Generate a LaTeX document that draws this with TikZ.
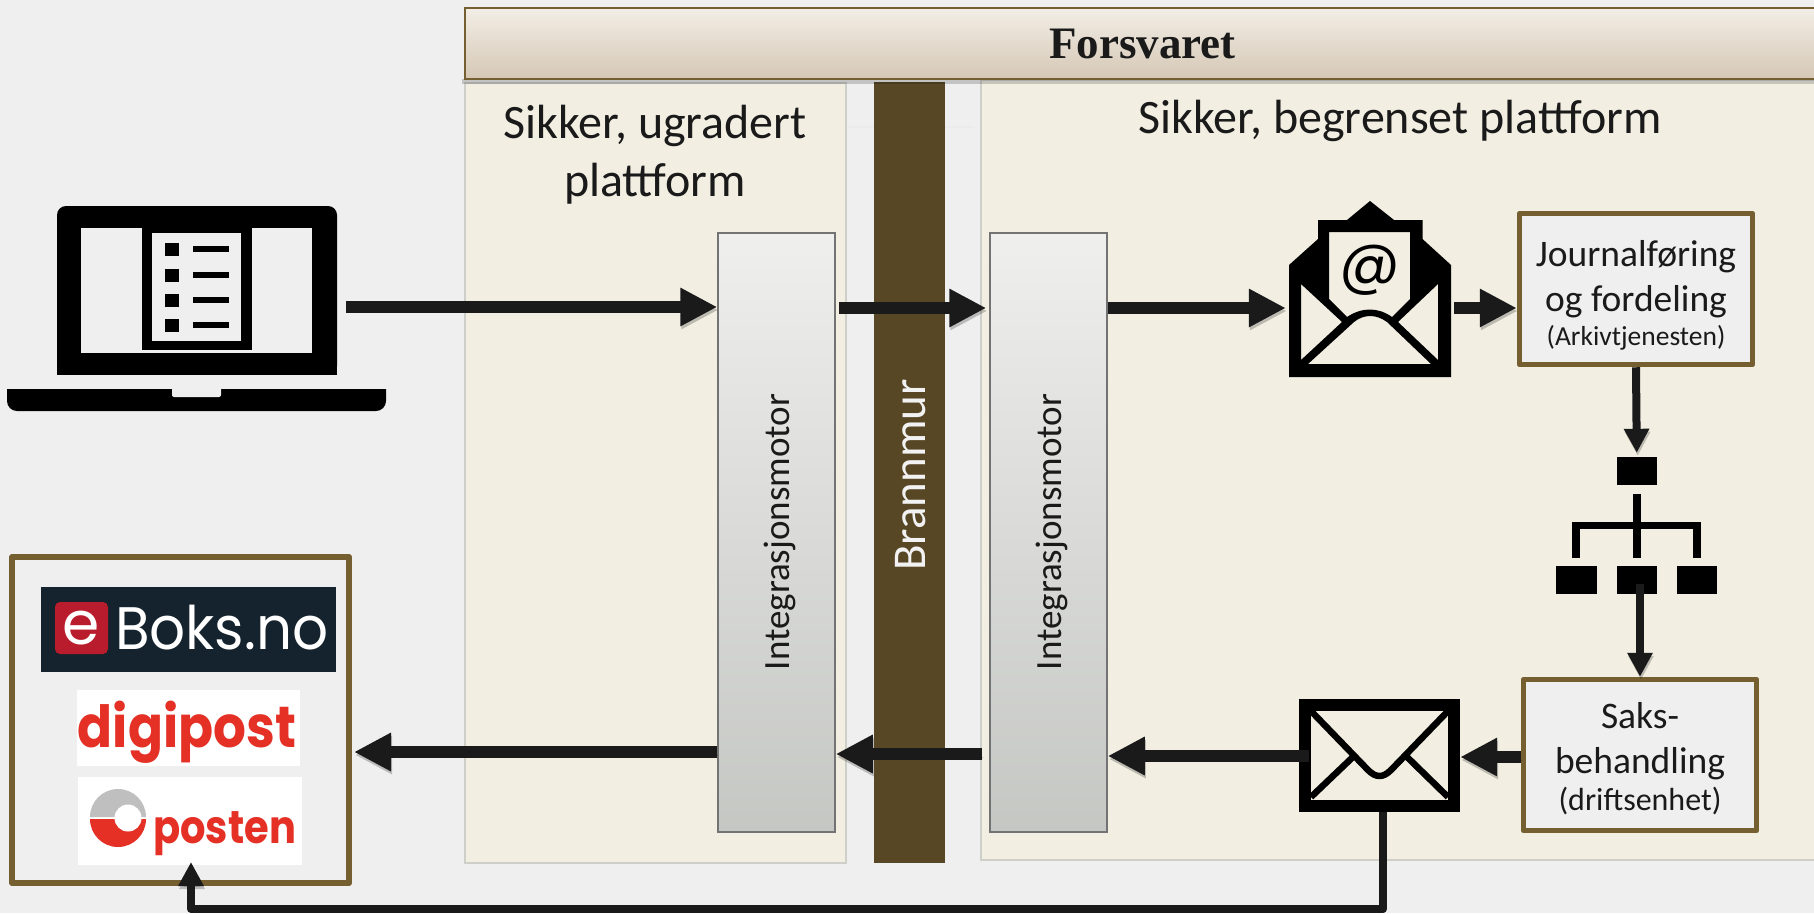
\documentclass[tikz,border=0pt]{standalone}
\usepackage{fontspec}
\setmainfont{Carlito}
\newfontfamily\headfont{Liberation Serif}
\newfontfamily\logofont{Poppins}
\usepackage{tikz}
\usetikzlibrary{arrows.meta}

\definecolor{pagegrey}{HTML}{EFEFEF}
\definecolor{panelfill}{HTML}{F2EEE2}
\definecolor{panelline}{HTML}{CFCFCA}
\definecolor{boxbrown}{HTML}{755E30}
\definecolor{wallbrown}{HTML}{574725}
\definecolor{flowblack}{HTML}{1A1A1A}
\definecolor{logored}{HTML}{E53026}
\definecolor{eboksnavy}{HTML}{14232D}
\definecolor{eboksred}{HTML}{B91C2D}
\definecolor{headtop}{HTML}{F2EEE6}
\definecolor{headlow}{HTML}{D5C7B5}
\definecolor{enginetop}{HTML}{EFEFEE}
\definecolor{enginelow}{HTML}{C5C7C3}

\tikzset{
  panel/.style={draw=panelline,line width=1.5pt,fill=panelfill,rectangle,inner sep=0pt},
  engine/.style={draw=black!55,line width=1.5pt,rectangle,inner sep=0pt,
    top color=enginetop,bottom color=enginelow,minimum width=117pt,minimum height=599pt},
  staffbox/.style={draw=boxbrown,line width=5.5pt,line join=round,fill=pagegrey,rectangle,
    inner sep=0pt,minimum width=233pt,minimum height=151pt},
  stafftext/.style={inner sep=0pt,align=center,text=flowblack,font=\fontsize{37.5}{44}\selectfont},
  iconbox/.style={rectangle,inner sep=0pt},
  logobox/.style={rectangle,inner sep=0pt,fill=white},
  soft/.style={preaction={draw=black,draw opacity=.22,transform canvas={shift={(1pt,-3pt)}}}},
  flow/.style={draw=flowblack,line width=12pt,->,>={Triangle[length=37pt,width=36pt]},soft},
  thinflow/.style={draw=flowblack,line width=8pt,line join=round,->,>={Triangle[length=24pt,width=24pt]},soft},
  orgpart/.style={fill=black,draw=none}
}

\begin{document}
\begin{tikzpicture}[x=1pt,y=-1pt]

  \clip (0,0) rectangle (1814,913);
  \fill [pagegrey] (0,0) rectangle (1814,913);

  % platforms and the wall
  \node [panel,minimum width=381pt,minimum height=780pt] (SafeOpen) at (655.5,473) {};
  \node [panel,minimum width=850pt,minimum height=780pt] (SafeLimited) at (1406,470) {};
  \draw [black!8,line width=1.5pt] (848,127) -- (974,127);
  \node [rectangle,fill=wallbrown,minimum width=71pt,minimum height=781pt,inner sep=0pt] (Wall) at (909,472.5) {};
  \node [rotate=90,text=black!5,font=\fontsize{47}{50}\selectfont] (WallLabel) at (911,475) {Brannmur};

  \fill [black,opacity=.18] (462,79) rectangle (1814,84);
  \node [rectangle,draw=boxbrown,line width=1.5pt,top color=headtop,bottom color=headlow,
    minimum width=1355pt,minimum height=71pt,inner sep=0pt,font=\headfont\bfseries\fontsize{45}{48}\selectfont,text=flowblack]
    (Head) at (1142.5,43.5) {\raisebox{-3pt}{Forsvaret}};

  \node [align=center,text=flowblack,font=\fontsize{48}{58}\selectfont] (OpenLabel) at (655,155) {Sikker, ugradert\\plattform};
  \node [text=flowblack,font=\fontsize{48}{58}\selectfont] (LimitedLabel) at (1400,121) {Sikker, begrenset plattform};

  % integration engines
  \node [engine] (EngineA) at (776.5,532.5) {};
  \node [engine] (EngineB) at (1048.5,532.5) {};
  \node [rotate=90,text=flowblack,font=\fontsize{37}{40}\selectfont] (EngineALabel) at (780,532) {Integrasjonsmotor};
  \node [rotate=90,text=flowblack,font=\fontsize{37}{40}\selectfont] (EngineBLabel) at (1052,532) {Integrasjonsmotor};

  % staff boxes
  \node [staffbox] (Journal) at (1636,289) {};
  \node [stafftext] (JournalLabel) at ([yshift=-6pt]Journal.center)
    {Journalføring\\[1pt]og fordeling\\[-10pt]{\fontsize{27.5}{30}\selectfont (Arkivtjenesten)}};
  \node [staffbox] (Case) at (1640,755) {};
  \node [stafftext] (CaseLabel) at ([yshift=-4pt]Case.center)
    {Saks-\\[1pt]behandling\\[-7pt]{\fontsize{32}{36}\selectfont (driftsenhet)}};

  % laptop
  \node [iconbox,minimum width=379pt,minimum height=205pt] (Laptop) at (196.5,308.5) {};
  \fill [black,rounded corners=9pt]
    (57,375) -- (57,206) -- (337,206) -- (337,375) -- cycle;
  \fill [pagegrey] (81,228) rectangle (312,353);
  \fill [black] (142,228) rectangle (252,350);
  \fill [pagegrey] (152,233) rectangle (241,341);
  \fill [black] (57,360) rectangle (337,375);
  \foreach \y in {249,275,300,325} {
    \fill [black] (165,\y-6.5) rectangle (179,\y+6.5);
    \fill [black] (193,\y-3) rectangle (229,\y+3);
  }
  \fill [black,rounded corners=10pt] (7,375) -- (7,411) -- (386,411) -- (386,375) -- cycle;
  \fill [pagegrey] (0,375) rectangle (400,389);
  \fill [pagegrey,rounded corners=2pt] (172,385) rectangle (221,397);

  % received mail
  \node [iconbox,minimum width=162pt,minimum height=176pt] (MailIn) at (1370,289) {};
  \fill [black,even odd rule]
    (1289,377) -- (1289,265) -- (1318,239) -- (1318,220) -- (1347,220) -- (1370,201)
      -- (1394,220) -- (1422.5,220) -- (1422.5,239) -- (1451,265) -- (1451,377) -- cycle
    (1329,232) -- (1410,232) -- (1410,299) -- (1392,317) .. controls (1378,307) and (1362,307) .. (1347,317) -- (1329,299) -- cycle
    (1301,284) -- (1342,322) -- (1301,360) -- cycle
    (1438,284) -- (1398,322) -- (1438,360) -- cycle
    (1308,364) -- (1354,322) .. controls (1364,314) and (1376,314) .. (1387,322) -- (1431,364) -- cycle;
  \node [text=black,font=\logofont\fontsize{60}{64}\selectfont,inner sep=0pt] (MailAt) at (1370,270) {@};

  % organisation chart
  \node [iconbox,fill=black,minimum width=40.5pt,minimum height=28pt] (OrgTop) at (1636.75,471) {};
  \node [iconbox,fill=black,minimum width=40.5pt,minimum height=28pt] (OrgLeft) at (1576.25,580) {};
  \node [iconbox,fill=black,minimum width=40.5pt,minimum height=28pt] (OrgMid) at (1636.75,580) {};
  \node [iconbox,fill=black,minimum width=40.5pt,minimum height=28pt] (OrgRight) at (1696.75,580) {};
  \fill [orgpart] (1632.75,494) rectangle (1640.75,558);
  \fill [orgpart] (1572,522) rectangle (1701,529);
  \fill [orgpart] (1572,522) rectangle (1580,558);
  \fill [orgpart] (1693,522) rectangle (1701,558);

  % outgoing mail
  \node [iconbox,fill=black,minimum width=161pt,minimum height=113pt] (MailOut) at (1379.5,755.5) {};
  \fill [panelfill] (1311,711) rectangle (1448,800);
  \draw [black,line width=6.5pt,line join=round]
    (1311,711) -- (1368,770) .. controls (1376,778) and (1383,778) .. (1391,770) -- (1448,711);
  \draw [black,line width=6.5pt] (1311,797) -- (1355,755);
  \draw [black,line width=6.5pt] (1448,797) -- (1405,755);

  % receivers
  \node [rectangle,draw=boxbrown,line width=6pt,line join=round,fill=pagegrey,minimum width=337pt,minimum height=326pt,inner sep=0pt]
    (Receivers) at (180.5,720) {};
  \node [rectangle,fill=eboksnavy,minimum width=295pt,minimum height=85pt,inner sep=0pt] (Eboks) at (188.5,629.5) {};
  \node [rectangle,fill=eboksred,rounded corners=5pt,minimum width=53pt,minimum height=52pt,inner sep=0pt,text=white,
    font=\logofont\fontsize{60}{62}\selectfont] (EboksE) at (81.5,628) {e};
  \node [anchor=base west,inner sep=0pt,xscale=.94,text=white,font=\logofont\fontsize{60}{62}\selectfont] (EboksText) at (115,649) {Boks.no};
  \node [logobox,minimum width=223pt,minimum height=76pt] (Digipost) at (188.5,728) {};
  \node [anchor=base,xscale=.89,text=logored,font=\logofont\bfseries\fontsize{58}{60}\selectfont,inner sep=0pt] (DigipostText) at (187,747) {digipost};
  \node [logobox,minimum width=224pt,minimum height=88pt] (Posten) at (190,821) {};
  \fill [black!25] (90,817) arc (180:360:28) -- cycle;
  \fill [logored] (90,819) arc (180:0:28) -- cycle;
  \fill [white] (128,818) circle (13.5);
  \node [anchor=base west,xscale=.87,text=logored,font=\logofont\bfseries\fontsize{46}{50}\selectfont,inner sep=0pt] (PostenText) at (153,843) {posten};

  % flows
  \coordinate (top_row) at (0,308);
  \coordinate (low_row) at (0,752);
  \coordinate (laptop_out) at (346,307);
  \coordinate (org_out) at (1640,584);
  \coordinate (bottom_bus) at (0,909);
  \coordinate (receivers_in) at (191,862);

  \draw [flow] (laptop_out) -- (EngineA.west |- laptop_out);
  \draw [flow] ([xshift=3pt]EngineA.east |- top_row) -- ([xshift=-3pt]EngineB.west |- top_row);
  \draw [flow] (EngineB.east |- top_row) -- ([xshift=-3pt]MailIn.west |- top_row);
  \draw [flow] ([xshift=3pt]MailIn.east |- top_row) -- (Journal.west |- top_row);
  \draw [thinflow] (Journal.south) -- ([yshift=4pt]OrgTop.north);
  \draw [thinflow] (org_out) -- (Case.north);
  \draw [flow] (Case.west |- 0,757) -- (MailOut.east |- 0,757);
  \draw [flow] ([xshift=10pt]MailOut.west |- 0,756) -- (EngineB.east |- 0,756);
  \draw [flow] ([xshift=-7pt]EngineB.west |- 0,754) -- (EngineA.east |- 0,754);
  \draw [flow] (EngineA.west |- low_row) -- ([xshift=2pt]Receivers.east |- low_row);
  \draw [thinflow] ([xshift=3.5pt]MailOut.south) -- ([xshift=3.5pt]MailOut.south |- bottom_bus)
    -- (receivers_in |- bottom_bus) -- (receivers_in);

\end{tikzpicture}
\end{document}
